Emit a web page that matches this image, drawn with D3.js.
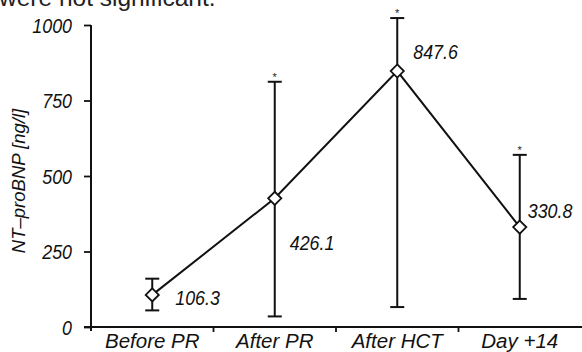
<!DOCTYPE html>
<html><head><meta charset="utf-8">
<script src="https://cdn.jsdelivr.net/npm/d3@7"></script>
<style>
html,body{margin:0;padding:0;background:#fff;}
svg{display:block;}
.lbl{font-family:"Liberation Sans",Arial,sans-serif;font-style:italic;fill:#111;}
</style></head>
<body>
<svg id="c" width="582" height="352"></svg>
<script>
const categories = ["Before PR", "After PR", "After HCT", "Day +14"];
const means = [106.3, 426.1, 847.6, 330.8];
const upper = [160, 812, 1023, 570];
const lower = [55, 35, 66, 93];
const significant = [false, true, true, true];
const yTicks = [0, 250, 500, 750, 1000];

const svg = d3.select("#c");
const x0 = 91, x1 = 582, yTop = 25, yBot = 327;
const x = d3.scaleBand().domain(categories).range([x0, x0 + 4*122.5]).padding(0);
const y = d3.scaleLinear().domain([0, 1000]).range([yBot, yTop]);
const cx = d => x(d) + x.bandwidth()/2;
const SX = 0.87;

svg.append("text").attr("x", -1).attr("y", 6)
  .attr("font-family", "Liberation Sans, Arial, sans-serif").attr("font-size", 24.5)
  .attr("fill", "#222").text("were not significant.");

// y axis
const yAxis = svg.append("g").attr("transform", `translate(${x0},0)`)
  .call(d3.axisLeft(y).tickValues(yTicks).tickSize(7).tickPadding(12).tickFormat(d3.format("d")));
yAxis.select(".domain").attr("d", `M0,${yTop}V${yBot+4}`).attr("stroke", "#111").attr("stroke-width", 2);
yAxis.selectAll(".tick line").attr("stroke", "#111").attr("stroke-width", 1.8);
yAxis.selectAll(".tick text").attr("class", "lbl").attr("font-size", 20.5).attr("dy", "0.36em")
  .attr("x", 0).attr("transform", `translate(-19,0) scale(${SX},1)`);

// x axis
const xAxis = svg.append("g").attr("transform", `translate(0,${yBot})`)
  .call(d3.axisBottom(x).tickSize(0).tickPadding(0));
xAxis.select(".domain").attr("d", `M${x0-7},0H${x1}`).attr("stroke", "#111").attr("stroke-width", 2);
xAxis.selectAll(".tick text").attr("class", "lbl").attr("font-size", 20.5).attr("y", 21).attr("dy", null);
// x ticks at band boundaries
xAxis.selectAll(".bnd").data(categories.slice(1)).enter().append("line")
  .attr("x1", d => x(d)).attr("x2", d => x(d)).attr("y1", 0).attr("y2", 5)
  .attr("stroke", "#111").attr("stroke-width", 1.8);

svg.append("text").attr("class", "lbl").attr("font-size", 18.5)
  .attr("transform", `translate(25,181) rotate(-90)`).attr("text-anchor", "middle")
  .text("NT–proBNP [ng/l]");

// error bars
const eb = svg.append("g").attr("stroke", "#111").attr("stroke-width", 2);
categories.forEach((c, i) => {
  const px = cx(c);
  eb.append("line").attr("x1", px).attr("x2", px).attr("y1", y(upper[i])).attr("y2", y(lower[i]));
  eb.append("line").attr("x1", px-7).attr("x2", px+7).attr("y1", y(upper[i])).attr("y2", y(upper[i]));
  eb.append("line").attr("x1", px-7).attr("x2", px+7).attr("y1", y(lower[i])).attr("y2", y(lower[i]));
  if (significant[i]) {
    svg.append("text").attr("x", px).attr("y", y(upper[i]) - 1).attr("text-anchor", "middle")
      .attr("font-family", "Liberation Sans, Arial, sans-serif").attr("font-size", 11).attr("fill", "#222").text("*");
  }
});

// line
svg.append("path").datum(categories)
  .attr("d", d3.line().x(d => cx(d)).y((d, i) => y(means[i])))
  .attr("fill", "none").attr("stroke", "#111").attr("stroke-width", 2);

// diamonds
svg.selectAll(".pt").data(categories).enter().append("path")
  .attr("d", d3.symbol(d3.symbolDiamond2, 110))
  .attr("transform", (d, i) => `translate(${cx(d)},${y(means[i])})`)
  .attr("fill", "#fff").attr("stroke", "#111").attr("stroke-width", 1.8);

// value labels
const off = [[23, 10], [15, 52], [16, -12], [8, -9]];
svg.selectAll(".vl").data(categories).enter().append("text").attr("class", "lbl")
  .attr("font-size", 20.5)
  .attr("transform", (d, i) => `translate(${cx(d) + off[i][0]},${y(means[i]) + off[i][1]}) scale(${SX},1)`)
  .text((d, i) => means[i].toFixed(1));
</script>
</body></html>
